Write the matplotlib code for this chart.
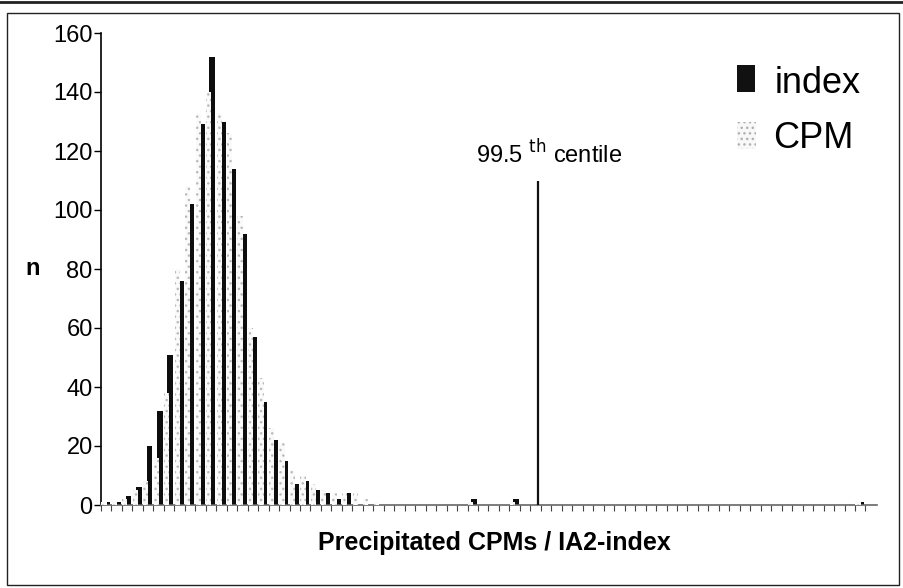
import numpy as np
import matplotlib.pyplot as plt
from matplotlib.patches import Rectangle
from matplotlib.lines import Line2D

plt.rcParams['font.family'] = ['Liberation Sans', 'DejaVu Sans']
plt.rcParams['hatch.linewidth'] = 1.0

# histogram counts per bin, 74 bins
index_n = [1, 1, 3, 6, 20, 32, 51, 76, 102, 129, 152, 130, 114, 92, 57, 35,
           22, 15, 7, 8, 5, 4, 2, 4, 0, 0, 0, 0, 0, 0, 0, 0, 0, 0, 0, 2,
           0, 0, 0, 2, 0, 0, 0, 0, 0, 0, 0, 0, 0, 0, 0, 0, 0, 0, 0, 0,
           0, 0, 0, 0, 0, 0, 0, 0, 0, 0, 0, 0, 0, 0, 0, 0, 1, 0]
cpm_n = [1, 1, 2, 5, 8, 16, 38, 80, 108, 133, 140, 133, 126, 98, 60, 43,
         26, 21, 12, 10, 7, 5, 4, 4, 4, 2, 1, 0, 0, 0, 0, 0, 0, 0, 0, 1,
         0, 0, 0, 1, 0, 0, 0, 0, 0, 0, 0, 0, 0, 0, 0, 0, 0, 0, 0, 0,
         0, 0, 0, 0, 0, 0, 0, 0, 0, 0, 0, 0, 0, 0, 0, 0, 1, 0]
centile_pos = 41.2   # bin position of the 99.5th centile
centile_top = 110

bins = np.arange(len(index_n))

W, H = 904, 588
fig = plt.figure(figsize=(W/100, H/100), dpi=100)
ax = fig.add_axes([101/W, (H-505)/H, (877-101)/W, 472/H])

ax.bar(bins + 0.12, index_n, width=0.55, color='#0d0d0d', linewidth=0, zorder=2)
ax.bar(bins - 0.22, cpm_n, width=0.5, facecolor='#fafafa', edgecolor='#bbbbbb',
       hatch='...', linewidth=0, zorder=3)

ax.vlines(centile_pos, 0, centile_top, color='#111111', lw=1.6, zorder=4)
ax.text(centile_pos - 5.9, centile_top + 4, '99.5 $^{\\rm th}$ centile', fontsize=17,
        ha='left', va='bottom')

ax.set_xlim(-0.4, 73.6)
ax.set_ylim(0, 160)
ax.set_yticks(range(0, 161, 20))
ax.tick_params(axis='y', labelsize=17, length=5, width=1, pad=1)
ax.set_xticks(bins - 0.5, minor=True)
ax.set_xticks([])
ax.tick_params(axis='x', which='minor', length=4, width=0.8, color='#444444')
for s in ['top', 'right']:
    ax.spines[s].set_visible(False)
ax.spines['left'].set_linewidth(1.2)
ax.spines['bottom'].set_color('#666666')
ax.spines['bottom'].set_linewidth(1.2)

fig.text(494/W, 1 - 543/H, 'Precipitated CPMs / IA2-index', fontsize=18,
         fontweight='bold', ha='center', va='center')
fig.text(33/W, 1 - 268/H, 'n', fontsize=17, fontweight='bold', ha='center', va='center')

# legend
fig.patches.append(Rectangle((737/W, 1 - 92/H), 18/W, 27/H, transform=fig.transFigure,
                             facecolor='#111111', edgecolor='none'))
fig.patches.append(Rectangle((737/W, 1 - 149/H), 19/W, 27/H, transform=fig.transFigure,
                             facecolor='#f8f8f8', edgecolor='#b0b0b0', hatch='...',
                             linewidth=0))
fig.text(775/W, 1 - 93/H, 'index', fontsize=26, ha='left', va='baseline')
fig.text(773/W, 1 - 148/H, 'CPM', fontsize=26, ha='left', va='baseline')

# scanned page frame
fig.patches.append(Rectangle((7/W, 3/H), 892/W, 572/H, transform=fig.transFigure,
                             facecolor='none', edgecolor='#222222', linewidth=1))
fig.lines.append(Line2D([0, 1], [1 - 2/H, 1 - 2/H], transform=fig.transFigure,
                        color='#222222', lw=2))

fig.savefig('out.png', dpi=100)
